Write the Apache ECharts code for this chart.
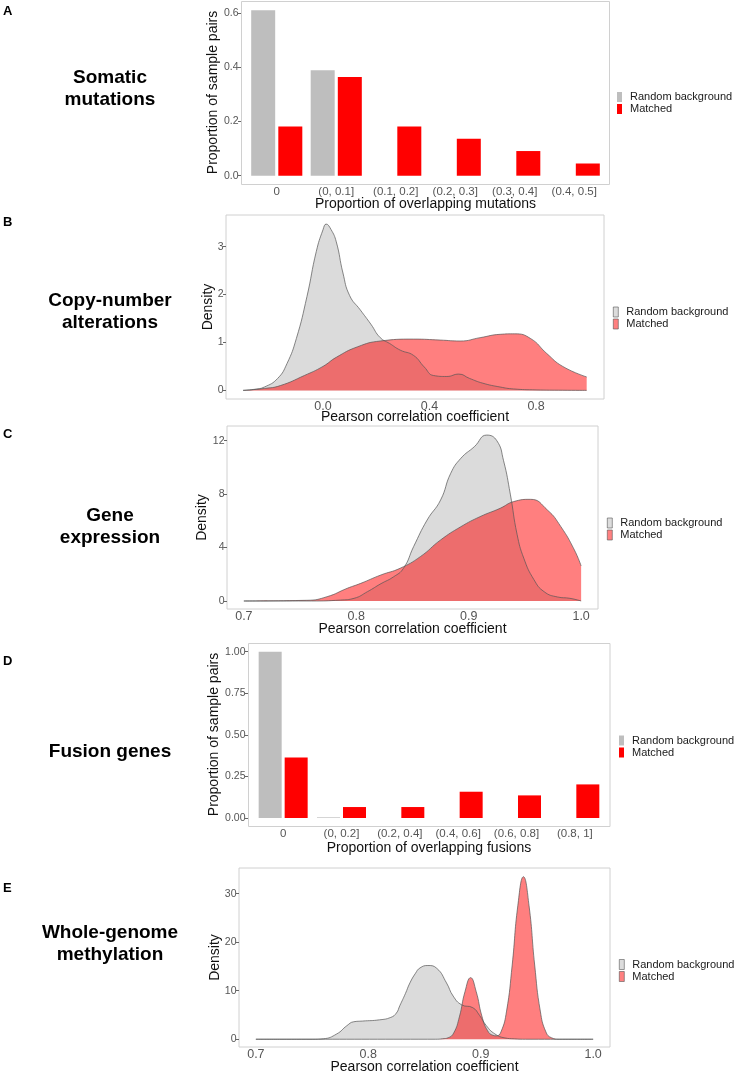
<!DOCTYPE html>
<html><head><meta charset="utf-8">
<script src="https://cdn.jsdelivr.net/npm/echarts@6/dist/echarts.min.js"></script>
<style>html,body{margin:0;padding:0;background:#fff}#c{width:736px;height:1075px}</style>
</head><body><div id="c"></div>
<script>
// ---------- data ----------
const seriesNames = ['Random background', 'Matched'];

// A: somatic mutations (bar)
const mutCategories = ['0', '(0, 0.1]', '(0.1, 0.2]', '(0.2, 0.3]', '(0.3, 0.4]', '(0.4, 0.5]'];
const mutRandom  = [0.611, 0.389, 0, 0, 0, 0];
const mutMatched = [0.182, 0.364, 0.182, 0.136, 0.091, 0.045];
const mutYTicks = [0, 0.2, 0.4, 0.6];
const mutYLabels = ['0.0', '0.2', '0.4', '0.6'];

// B: copy-number alterations (density)
const cnaRandom = [[-0.30,0],[-0.26,0.02],[-0.22,0.07],[-0.17,0.25],[-0.135,0.56],[-0.10,1.08],[-0.06,1.96],[-0.025,2.9],[0,3.35],[0.012,3.47],[0.03,3.36],[0.05,3.1],[0.075,2.45],[0.10,1.98],[0.14,1.68],[0.18,1.38],[0.215,1.1],[0.25,0.98],[0.29,0.84],[0.34,0.73],[0.38,0.49],[0.415,0.31],[0.465,0.29],[0.51,0.34],[0.55,0.25],[0.60,0.15],[0.665,0.07],[0.715,0.03],[0.80,0.01],[0.90,0.003],[0.99,0]];
const cnaMatched = [[-0.30,0],[-0.22,0.04],[-0.16,0.1],[-0.07,0.31],[0,0.5],[0.05,0.69],[0.13,0.91],[0.215,1.03],[0.34,1.07],[0.44,1.05],[0.515,1.03],[0.59,1.1],[0.665,1.17],[0.72,1.18],[0.78,1.08],[0.84,0.77],[0.90,0.5],[0.99,0.28]];
const cnaXTicks = [0, 0.4, 0.8];
const cnaXLabels = ['0.0', '0.4', '0.8'];
const cnaYTicks = [0, 1, 2, 3];
const cnaYLabels = ['0', '1', '2', '3'];

// C: gene expression (density)
const geneRandom = [[0.70,0],[0.76,0],[0.786,0.07],[0.798,0.2],[0.81,0.7],[0.822,1.3],[0.833,1.8],[0.842,2.45],[0.851,4.07],[0.863,6.06],[0.875,7.56],[0.884,9.56],[0.893,10.68],[0.905,11.55],[0.916,12.42],[0.925,12.0],[0.931,10.5],[0.937,8.0],[0.943,5.0],[0.949,3.2],[0.958,1.6],[0.967,0.7],[0.979,0.3],[0.99,0.2],[1.0,0]];
const geneMatched = [[0.70,0],[0.756,0.05],[0.774,0.32],[0.792,0.95],[0.804,1.32],[0.822,1.95],[0.839,2.45],[0.857,3.32],[0.875,4.57],[0.893,5.56],[0.91,6.31],[0.928,6.94],[0.94,7.44],[0.955,7.61],[0.97,6.81],[0.982,5.56],[0.994,3.82],[1.0,2.62]];
const corrXTicks = [0.7, 0.8, 0.9, 1.0];
const corrXLabels = ['0.7', '0.8', '0.9', '1.0'];
const geneYTicks = [0, 4, 8, 12];
const geneYLabels = ['0', '4', '8', '12'];

// D: fusion genes (bar)
const fusCategories = ['0', '(0, 0.2]', '(0.2, 0.4]', '(0.4, 0.6]', '(0.6, 0.8]', '(0.8, 1]'];
const fusRandom  = [1.0, 0.004, 0, 0, 0, 0];
const fusMatched = [0.363, 0.066, 0.066, 0.158, 0.136, 0.202];
const fusYTicks = [0, 0.25, 0.5, 0.75, 1.0];
const fusYLabels = ['0.00', '0.25', '0.50', '0.75', '1.00'];

// E: whole-genome methylation (density)
const methRandom = [[0.70,0],[0.75,0],[0.76,0.1],[0.772,1.1],[0.781,2.8],[0.787,3.6],[0.795,3.75],[0.81,4.0],[0.82,4.5],[0.825,5.4],[0.828,6.9],[0.833,9.4],[0.837,11.6],[0.842,13.6],[0.846,14.7],[0.853,15.2],[0.861,14.6],[0.8696,11.6],[0.8755,8.9],[0.883,7.1],[0.893,6.5],[0.899,4.9],[0.905,2.8],[0.9126,1.1],[0.9215,0.27],[0.93,0.08],[0.94,0],[1.0,0]];
const methMatched = [[0.70,0],[0.86,0],[0.866,0.1],[0.871,0.3],[0.876,1.3],[0.881,4.6],[0.886,9.8],[0.891,12.7],[0.896,9.8],[0.901,4.8],[0.906,1.8],[0.911,0.8],[0.914,0.7],[0.918,1.5],[0.923,5.8],[0.928,15.3],[0.933,27.5],[0.938,33.5],[0.943,27.5],[0.948,15.3],[0.953,5.8],[0.958,1.5],[0.963,0.3],[0.97,0],[1.0,0]];
const methYTicks = [0, 10, 20, 30];
const methYLabels = ['0', '10', '20', '30'];

// ---------- styling helpers ----------
const FONT = '"Liberation Sans", Arial, Helvetica, sans-serif';
const TICK_COLOR = '#555';
const GRAY_BAR = '#bebebe', RED_BAR = '#ff0000';
const GRAY_FILL = 'rgba(190,190,190,0.55)', RED_FILL = 'rgba(255,0,0,0.5)';

function labelFmt(ticks, labels) {
  return v => { for (let i = 0; i < ticks.length; i++) if (Math.abs(ticks[i] - v) < 1e-9) return labels[i]; return ''; };
}
function yAxisDef(gi, min, max, ticks, labels, nameGap, name, offset) {
  return {
    type: 'value', gridIndex: gi, min, max, offset: offset || 0,
    name, nameLocation: 'middle', nameGap, nameMoveOverlap: false,
    nameTextStyle: { fontFamily: FONT, fontSize: 14, color: '#111' },
    splitLine: { show: false }, axisLine: { show: false, onZero: false },
    axisTick: { show: true, length: 3, lineStyle: { color: '#666' }, customValues: ticks },
    axisLabel: { customValues: ticks, formatter: labelFmt(ticks, labels), fontFamily: FONT, fontSize: 10.5, color: TICK_COLOR, margin: 2.5 }
  };
}
function xValueAxis(gi, min, max, ticks, labels, nameGap) {
  return {
    type: 'value', gridIndex: gi, min, max,
    name: 'Pearson correlation coefficient', nameLocation: 'middle', nameGap, nameMoveOverlap: false,
    nameTextStyle: { fontFamily: FONT, fontSize: 14, color: '#111' },
    splitLine: { show: false }, axisLine: { show: false, onZero: false }, axisTick: { show: false },
    axisLabel: { customValues: ticks, formatter: labelFmt(ticks, labels), fontFamily: FONT, fontSize: 12.5, color: TICK_COLOR, margin: 1 }
  };
}
function xCatAxis(gi, cats, name, nameGap) {
  return {
    type: 'category', gridIndex: gi, data: cats,
    name, nameLocation: 'middle', nameGap, nameMoveOverlap: false,
    nameTextStyle: { fontFamily: FONT, fontSize: 14, color: '#111' },
    axisLine: { show: false, onZero: false }, axisTick: { show: false }, splitLine: { show: false },
    axisLabel: { interval: 0, fontFamily: FONT, fontSize: 11.5, color: TICK_COLOR, margin: 2 }
  };
}
function barSeries(gi, name, data, color, w) {
  return { type: 'bar', name, xAxisIndex: gi, yAxisIndex: gi, data, barWidth: w, barGap: '13%',
    itemStyle: { color }, emphasis: { disabled: true }, animation: false };
}
function densSeries(gi, name, data, fill) {
  return { type: 'line', name, xAxisIndex: gi, yAxisIndex: gi, data, smooth: 0.5,
    showSymbol: false, symbol: 'none', lineStyle: { color: '#555', width: 0.7 }, itemStyle: { color: fill },
    areaStyle: { color: fill, origin: 0, opacity: 1 }, emphasis: { disabled: true }, animation: false };
}
function legendDef(left, top, bar) {
  const g = bar ? { color: GRAY_BAR, borderWidth: 0 } : { color: '#dcdcdc', borderColor: '#555', borderWidth: 0.6 };
  const r = bar ? { color: RED_BAR, borderWidth: 0 } : { color: '#ff8080', borderColor: '#555', borderWidth: 0.6 };
  return { orient: 'vertical', left, top, padding: 0, itemWidth: 5, itemHeight: 10, itemGap: 1, icon: 'rect',
    selectedMode: false, textStyle: { fontFamily: FONT, fontSize: 11, color: '#1a1a1a', padding: [0, 0, 0, 3], lineHeight: 11 },
    data: [{ name: seriesNames[0], itemStyle: g }, { name: seriesNames[1], itemStyle: r }] };
}
function panelText(x, y, text) {
  return { type: 'text', x, y, style: { text, font: 'bold 19px ' + FONT, align: 'center', verticalAlign: 'middle', lineHeight: 22, fill: '#000' } };
}
function letter(y, t) {
  return { type: 'text', x: 3, y, style: { text: t, font: 'bold 13px ' + FONT, align: 'left', verticalAlign: 'middle', fill: '#000' } };
}
function box(x, y, w, h) {
  return { type: 'rect', shape: { x, y, width: w, height: h }, style: { fill: 'none', stroke: '#d0d0d0', lineWidth: 1 }, silent: true };
}

const gridBorder = { show: true, borderColor: '#d0d0d0', borderWidth: 1, backgroundColor: 'transparent' };

const option = {
  backgroundColor: '#fff',
  animation: false,
  grid: [
    { left: 247, top: 1, width: 357, height: 183 },
    Object.assign({ left: 226, top: 215, width: 378, height: 184 }, gridBorder),
    Object.assign({ left: 227, top: 426, width: 371, height: 183 }, gridBorder),
    { left: 254, top: 643, width: 350, height: 183 },
    Object.assign({ left: 239, top: 868, width: 371, height: 182 }, gridBorder)
  ],
  xAxis: [
    xCatAxis(0, mutCategories, 'Proportion of overlapping mutations', 13),
    xValueAxis(1, -0.364, 1.055, cnaXTicks, cnaXLabels, 11.5),
    xValueAxis(2, 0.685, 1.015, corrXTicks, corrXLabels, 13.3),
    xCatAxis(3, fusCategories, 'Proportion of overlapping fusions', 15.5),
    xValueAxis(4, 0.685, 1.015, corrXTicks, corrXLabels, 13)
  ],
  yAxis: [
    yAxisDef(0, -0.0307, 0.645, mutYTicks, mutYLabels, 21, 'Proportion of sample pairs', 6),
    yAxisDef(1, -0.18, 3.66, cnaYTicks, cnaYLabels, 10.5, 'Density'),
    yAxisDef(2, -0.6, 13.1, geneYTicks, geneYLabels, 18, 'Density'),
    yAxisDef(3, -0.048, 1.052, fusYTicks, fusYLabels, 26.5, 'Proportion of sample pairs', 6),
    yAxisDef(4, -1.6, 35.3, methYTicks, methYLabels, 17, 'Density')
  ],
  legend: [
    legendDef(617, 91.5, true),
    legendDef(613, 306.5, false),
    legendDef(607, 517.5, false),
    legendDef(619, 735, true),
    legendDef(619, 959, false)
  ],
  series: [
    barSeries(0, seriesNames[0], mutRandom, GRAY_BAR, 24),
    barSeries(0, seriesNames[1], mutMatched, RED_BAR, 24),
    densSeries(1, seriesNames[0], cnaRandom, GRAY_FILL),
    densSeries(1, seriesNames[1], cnaMatched, RED_FILL),
    densSeries(2, seriesNames[0], geneRandom, GRAY_FILL),
    densSeries(2, seriesNames[1], geneMatched, RED_FILL),
    barSeries(3, seriesNames[0], fusRandom, GRAY_BAR, 23),
    barSeries(3, seriesNames[1], fusMatched, RED_BAR, 23),
    densSeries(4, seriesNames[0], methRandom, GRAY_FILL),
    densSeries(4, seriesNames[1], methMatched, RED_FILL)
  ],
  graphic: [
    box(241.5, 1.5, 368, 183),
    box(248.5, 643.5, 361.5, 183),
    letter(11.5, 'A'), letter(222.5, 'B'), letter(434.5, 'C'), letter(661, 'D'), letter(888.5, 'E'),
    panelText(110, 89, 'Somatic\nmutations'),
    panelText(110, 312, 'Copy-number\nalterations'),
    panelText(110, 527, 'Gene\nexpression'),
    panelText(110, 752, 'Fusion genes'),
    panelText(110, 943.5, 'Whole-genome\nmethylation')
  ]
};
const chart = echarts.init(document.getElementById('c'), null, { renderer: 'canvas' });
chart.setOption(option);
</script></body></html>
